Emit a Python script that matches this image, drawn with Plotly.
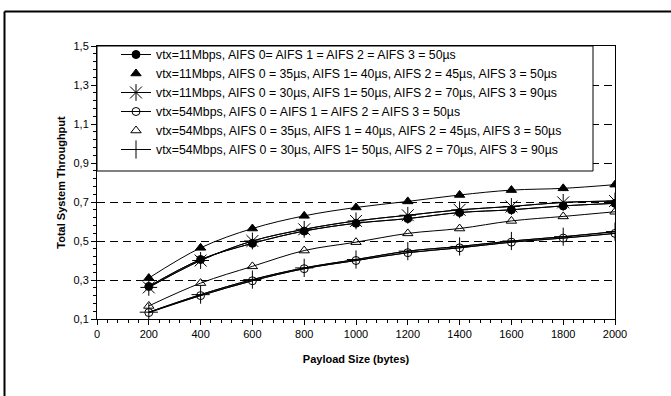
import plotly.graph_objects as go

payload = [200, 400, 600, 800, 1000, 1200, 1400, 1600, 1800, 2000]

thr_11_equal = [0.267, 0.405, 0.488, 0.551, 0.591, 0.615, 0.646, 0.660, 0.680, 0.693]
thr_11_35_50 = [0.310, 0.465, 0.564, 0.629, 0.672, 0.703, 0.736, 0.761, 0.770, 0.789]
thr_11_30_90 = [0.262, 0.400, 0.500, 0.560, 0.603, 0.632, 0.660, 0.677, 0.698, 0.705]
thr_54_equal = [0.133, 0.220, 0.296, 0.358, 0.400, 0.440, 0.465, 0.494, 0.515, 0.539]
thr_54_35_50 = [0.167, 0.284, 0.370, 0.451, 0.494, 0.539, 0.564, 0.603, 0.626, 0.650]
thr_54_30_90 = [0.135, 0.225, 0.302, 0.362, 0.405, 0.448, 0.472, 0.500, 0.522, 0.548]

names = [
    "vtx=11Mbps, AIFS 0= AIFS 1 = AIFS 2 = AIFS 3 = 50µs",
    "vtx=11Mbps, AIFS 0 = 35µs, AIFS 1= 40µs, AIFS 2 = 45µs, AIFS 3 = 50µs",
    "vtx=11Mbps, AIFS 0 = 30µs, AIFS 1= 50µs, AIFS 2 = 70µs, AIFS 3 = 90µs",
    "vtx=54Mbps, AIFS 0 = AIFS 1 = AIFS 2 = AIFS 3 = 50µs",
    "vtx=54Mbps, AIFS 0 = 35µs, AIFS 1 = 40µs, AIFS 2 = 45µs, AIFS 3 = 50µs",
    "vtx=54Mbps, AIFS 0 = 30µs, AIFS 1= 50µs, AIFS 2 = 70µs, AIFS 3 = 90µs",
]

x_ticks = [0, 200, 400, 600, 800, 1000, 1200, 1400, 1600, 1800, 2000]
x_ticktext = ["0", "200", "400", "600", "800", "1000", "1200", "1400", "1600", "1800", "2000"]
y_ticks = [0.1, 0.3, 0.5, 0.7, 0.9, 1.1, 1.3, 1.5]
y_ticktext = ["0,1", "0,3", "0,5", "0,7", "0,9", "1,1", "1,3", "1,5"]

series = [thr_11_equal, thr_11_35_50, thr_11_30_90, thr_54_equal, thr_54_35_50, thr_54_30_90]
symbols = ["circle", "triangle-up", "asterisk-open", "circle-open", "triangle-up-open", "cross-thin-open"]
sizes = [8, 9, 14, 8, 9, 13]
legend_line = [True, False, True, True, False, True]

FONT = "Arial, 'Liberation Sans', sans-serif"

fig = go.Figure()
# smoothed curves (no legend entries)
for ys in series:
    fig.add_trace(go.Scatter(x=payload, y=ys, mode="lines",
                             line=dict(color="black", width=1, shape="spline"),
                             showlegend=False, hoverinfo="skip"))
# markers with legend entries
for ys, nm, sym, sz, ll in zip(series, names, symbols, sizes, legend_line):
    fig.add_trace(go.Scatter(
        x=payload, y=ys, name=nm,
        mode="lines+markers" if ll else "markers",
        line=dict(color="black", width=1, shape="spline"),
        marker=dict(symbol=sym, size=sz, color="black", line=dict(color="black", width=1)),
    ))

L, R, T, B = 97, 56, 46, 77
W, H = 671, 396
pw, ph = W - L - R, H - T - B

def px(xp):
    return (xp - L) / pw

def py(yp):
    return (H - B - yp) / ph

fig.update_layout(
    width=W, height=H,
    margin=dict(l=L, r=R, t=T, b=B, pad=0),
    paper_bgcolor="white", plot_bgcolor="white",
    font=dict(family=FONT, size=11, color="black"),
    showlegend=True,
    legend=dict(x=px(116), y=py(40), xanchor="left", yanchor="top",
                bgcolor="rgba(0,0,0,0)", borderwidth=0,
                font=dict(family=FONT, size=12.3, color="black"),
                itemwidth=30),
    xaxis=dict(range=[0, 2000], tickvals=x_ticks, ticktext=x_ticktext,
               showline=True, linecolor="black", linewidth=1, mirror=True,
               ticks="outside", ticklen=5, tickcolor="black", tickwidth=1,
               minor=dict(ticks="outside", ticklen=3, dtick=40, tickcolor="black", showgrid=False),
               showgrid=False, zeroline=False,
               tickfont=dict(family=FONT, size=11),
               title=dict(text="<b>Payload Size (bytes)</b>", font=dict(family=FONT, size=11), standoff=16)),
    yaxis=dict(range=[0.1, 1.5], tickvals=y_ticks, ticktext=y_ticktext,
               showline=True, linecolor="black", linewidth=1, mirror=True,
               ticks="outside", ticklen=5, tickcolor="black", tickwidth=1,
               minor=dict(ticks="outside", ticklen=3, dtick=0.04, tick0=0.1, tickcolor="black", showgrid=False),
               showgrid=True, gridcolor="black", gridwidth=1, griddash="8px,5px",
               zeroline=False,
               tickfont=dict(family=FONT, size=11),
               title=dict(text="<b>Total System Throughput</b>", font=dict(family=FONT, size=11), standoff=5)),
    shapes=[
        # legend box
        dict(type="rect", xref="paper", yref="paper", x0=0, x1=px(593), y0=py(171), y1=1,
             line=dict(color="black", width=1), fillcolor="white", layer="above"),
        # outer frame of the figure (left and top edges visible)
        dict(type="line", xref="paper", yref="paper", x0=px(4.5), x1=px(4.5), y0=py(396), y1=py(11.5),
             line=dict(color="black", width=2), layer="above"),
        dict(type="line", xref="paper", yref="paper", x0=px(4.5), x1=px(671), y0=py(11.5), y1=py(11.5),
             line=dict(color="black", width=2), layer="above"),
    ],
)

fig.write_html("out.html")
